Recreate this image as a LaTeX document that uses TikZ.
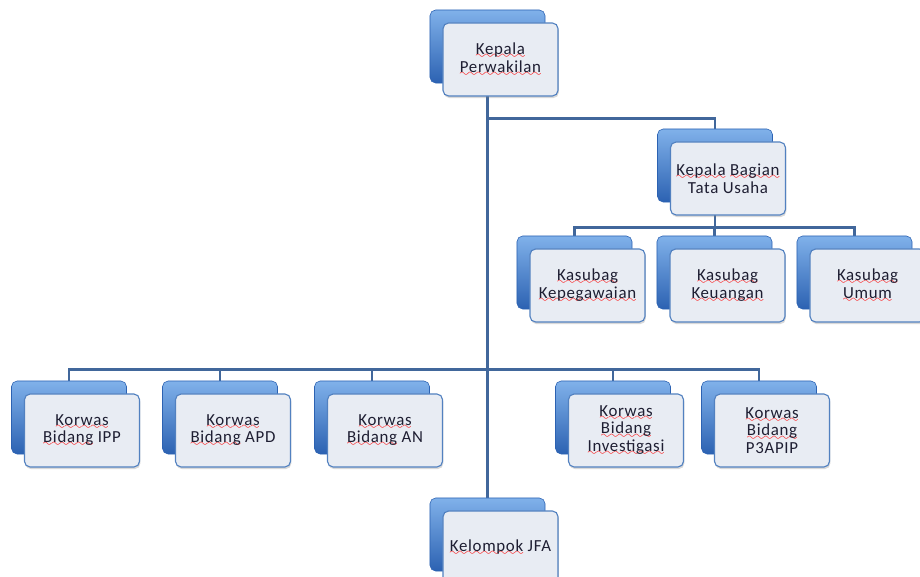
\documentclass[tikz,border=0pt]{standalone}
\usepackage{fontspec}
\usetikzlibrary{calc, backgrounds, shadows}

\newfontfamily\orgfont[LetterSpace=4]{Carlito}
\definecolor{linkblue}{HTML}{41679B}
\definecolor{backtop}{HTML}{80B1EA}
\definecolor{backmid}{HTML}{4B87D6}
\definecolor{backbot}{HTML}{2C62B2}
\definecolor{frontfill}{HTML}{E8ECF3}
\definecolor{frontline}{HTML}{5281C0}
\definecolor{orgtext}{HTML}{1E1E32}

% red wavy underline
\font\sqwave=lasy8
\newcommand\sq[1]{\leavevmode\setbox0\hbox{#1}%
  \rlap{\textcolor{red}{\lower3pt\hbox to\wd0{\xleaders\hbox{\sqwave\char58}\hfil}}}\box0\relax}

\tikzset{
  backbox/.style={rounded corners=4pt, minimum width=2.875cm, minimum height=1.825cm,
    inner sep=0pt, top color=backtop, middle color=backmid, bottom color=backbot,
    draw=backbot},
  frontbox/.style={rounded corners=4pt, minimum width=2.875cm, minimum height=1.825cm,
    inner sep=1pt, draw=frontline, fill=frontfill, line width=0.8pt, align=center,
    text=orgtext, font=\orgfont\fontsize{12}{12.5}\selectfont,
    drop shadow={shadow xshift=0.6pt, shadow yshift=-1.5pt, opacity=0.3}},
  link/.style={draw=linkblue, line width=1.8pt}
}

% blue box behind, light box in front
\newcommand\orgunit[4]{%
  \node[backbox] (#1-b) at (#2,#3) {};
  \node[frontbox] (#1) at ([shift={(13,13)}]#1-b.center) {#4};}

\begin{document}
\begin{tikzpicture}[x=0.025cm, y=-0.025cm]
  \useasboundingbox (0,0) rectangle (920,577);

  % head
  \orgunit{kp}{487.5}{46.5}{\sq{Kepala}\\\sq{Perwakilan}}
  % tata usaha
  \orgunit{kb}{715}{165.5}{\sq{Kepala} \sq{Bagian}\\Tata Usaha}
  \orgunit{ka}{574.5}{272.5}{\sq{Kasubag}\\\sq{Kepegawaian}}
  \orgunit{ke}{714.5}{272.5}{\sq{Kasubag}\\\sq{Keuangan}}
  \orgunit{ku}{854.5}{272.5}{\sq{Kasubag}\\\sq{Umum}}
  % korwas row
  \orgunit{ipp}{69}{417.5}{\sq{Korwas}\\\sq{Bidang} IPP}
  \orgunit{apd}{220}{417.5}{\sq{Korwas}\\\sq{Bidang} APD}
  \orgunit{an}{372}{417.5}{\sq{Korwas}\\\sq{Bidang} AN}
  \orgunit{inv}{613}{417.5}{\sq{Korwas}\\\sq{Bidang}\\\sq{Investigasi}}
  \orgunit{p3}{759}{417.5}{\sq{Korwas}\\\sq{Bidang}\\P3APIP}
  % jfa
  \orgunit{jfa}{487.5}{534.5}{\sq{Kelompok} JFA}

  \begin{scope}[on background layer]
    \draw[link] (kp-b.center) -- (jfa-b.north);
    \draw[link] (kp-b.south) -- ++(0,35) -| (kb-b.north);
    \draw[link] (kb-b.south) -- ++(0,25) coordinate (tu);
    \foreach \n in {ka,ke,ku} \draw[link] (tu) -| (\n-b.north);
    \draw[link] (kp-b.south) -- ++(0,286) coordinate (kw);
    \foreach \n in {ipp,apd,an,inv,p3} \draw[link] (kw) -| (\n-b.north);
  \end{scope}
\end{tikzpicture}
\end{document}
